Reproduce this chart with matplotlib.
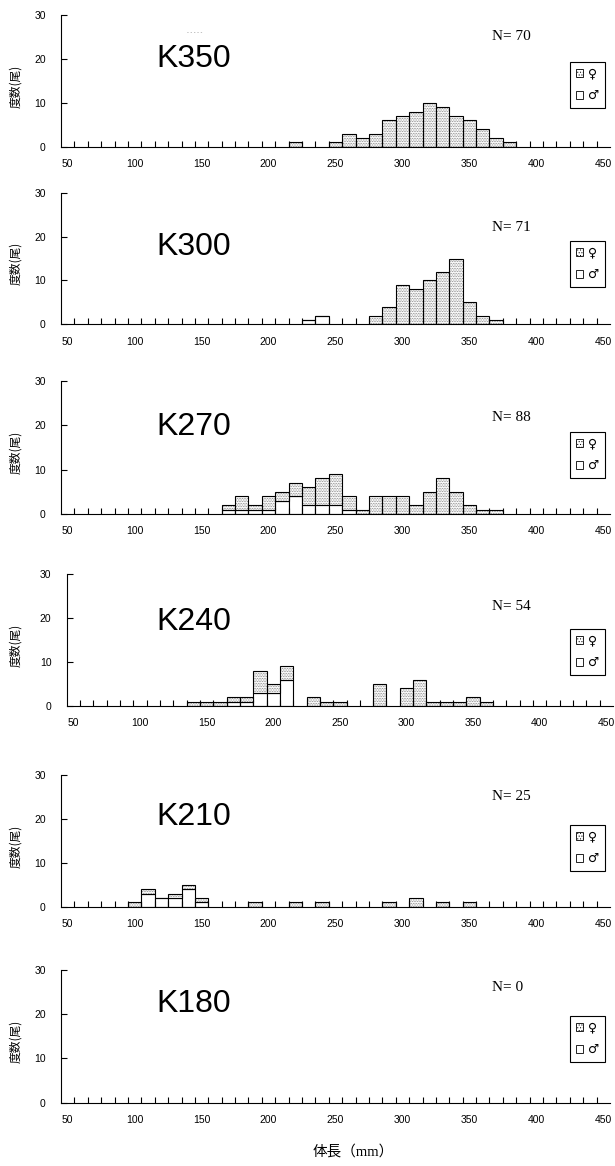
import matplotlib
matplotlib.use("Agg")
import numpy as np
import matplotlib.pyplot as plt
from matplotlib.patches import Patch
from matplotlib import font_manager

# body length classes (mm) and counts per station, female / male
k350_len = [220, 250, 260, 270, 280, 290, 300, 310, 320, 330, 340, 350, 360, 370, 380]
k350_female = [1, 1, 3, 2, 3, 6, 7, 8, 10, 9, 7, 6, 4, 2, 1]
k350_male = [0, 0, 0, 0, 0, 0, 0, 0, 0, 0, 0, 0, 0, 0, 0]

k300_len = [230, 240, 280, 290, 300, 310, 320, 330, 340, 350, 360, 370]
k300_female = [0, 0, 2, 4, 9, 8, 10, 12, 15, 5, 2, 1]
k300_male = [1, 2, 0, 0, 0, 0, 0, 0, 0, 0, 0, 0]

k270_len = [170, 180, 190, 200, 210, 220, 230, 240, 250, 260, 270,
            280, 290, 300, 310, 320, 330, 340, 350, 360, 370]
k270_female = [1, 3, 1, 3, 2, 3, 4, 6, 7, 3, 1, 4, 4, 4, 2, 5, 8, 5, 2, 1, 1]
k270_male = [1, 1, 1, 1, 3, 4, 2, 2, 2, 1, 0, 0, 0, 0, 0, 0, 0, 0, 0, 0, 0]

k240_len = [140, 150, 160, 170, 180, 190, 200, 210, 230, 240, 250,
            280, 300, 310, 320, 330, 340, 350, 360]
k240_female = [1, 1, 1, 1, 1, 5, 2, 3, 2, 1, 1, 5, 4, 6, 1, 1, 1, 2, 1]
k240_male = [0, 0, 0, 1, 1, 3, 3, 6, 0, 0, 0, 0, 0, 0, 0, 0, 0, 0, 0]

k210_len = [100, 110, 120, 130, 140, 150, 190, 220, 240, 290, 310, 330, 350]
k210_female = [1, 1, 0, 1, 1, 1, 1, 1, 1, 1, 2, 1, 1]
k210_male = [0, 3, 2, 2, 4, 1, 0, 0, 0, 0, 0, 0, 0]

k180_len = []
k180_female = []
k180_male = []

stations = ["K350", "K300", "K270", "K240", "K210", "K180"]
n_totals = [70, 71, 88, 54, 25, 0]
x_ticks = [50, 100, 150, 200, 250, 300, 350, 400, 450]
y_ticks = [0, 10, 20, 30]

panels = [
    (k350_len, k350_female, k350_male),
    (k300_len, k300_female, k300_male),
    (k270_len, k270_female, k270_male),
    (k240_len, k240_female, k240_male),
    (k210_len, k210_female, k210_male),
    (k180_len, k180_female, k180_male),
]

# layout in pixels: axes (left, right, top, bottom), station label baseline,
# N text centre, legend top
W, H = 615, 1166
axes_px = [(61, 610, 15.3, 146.7), (61, 610, 192.7, 324.3), (61, 610, 380.7, 514),
           (66.7, 613, 574, 706), (61, 610, 775, 906.7), (61, 610, 970, 1102.7)]
label_base = [66.7, 255, 435, 630, 825, 1011.7]
n_centre = [37, 227.5, 417, 607, 797, 987.5]
legend_top = [62, 241, 432, 629, 825, 1016]


def has_font(name):
    try:
        font_manager.findfont(name, fallback_to_default=False)
        return True
    except ValueError:
        return False


big_font = "Liberation Sans Narrow" if has_font("Liberation Sans Narrow") else "Liberation Sans"
big_size = 27 if big_font == "Liberation Sans Narrow" else 23

plt.rcParams["hatch.linewidth"] = 0.4
plt.rcParams["font.family"] = ["Liberation Sans", "Noto Sans CJK JP", "DejaVu Sans"]

fig = plt.figure(figsize=(W / 100, H / 100), dpi=100)

for i, (lens, fem, mal) in enumerate(panels):
    l, r, t, b = axes_px[i]
    ax = fig.add_axes([l / W, 1 - b / H, (r - l) / W, (b - t) / H])
    fem = np.array(fem)
    mal = np.array(mal)
    if len(lens):
        ax.bar(lens, mal, width=10, facecolor="white", edgecolor="black", linewidth=0.8)
        ax.bar(lens, fem, width=10, bottom=mal, facecolor="white", edgecolor="#666666",
               hatch="..........", linewidth=0)
        ax.bar(lens, fem, width=10, bottom=mal, facecolor="none", edgecolor="black",
               linewidth=0.8)

    ax.set_xlim(45, 455)
    ax.set_ylim(0, 30)
    ax.spines["top"].set_visible(False)
    ax.spines["right"].set_visible(False)
    for s in ("left", "bottom"):
        ax.spines[s].set_linewidth(0.8)

    ax.set_xticks(x_ticks)
    ax.set_xticklabels([str(v) for v in x_ticks])
    ax.set_xticks(np.arange(55, 450, 10), minor=True)
    ax.tick_params(axis="x", which="major", length=0, pad=9, labelsize=7.5)
    ax.tick_params(axis="x", which="minor", direction="in", length=4, width=0.8)
    ax.set_yticks(y_ticks)
    ax.tick_params(axis="y", direction="in", length=4, width=0.8, pad=11, labelsize=7.5)

    ax.set_ylabel("度数(尾)", fontsize=8.5, family=["Noto Sans CJK JP", "DejaVu Sans"])
    ax.yaxis.set_label_coords((22 - l) / (r - l), 0.46)

    fig.text(156 / W, 1 - label_base[i] / H, stations[i], fontsize=big_size,
             family=big_font, ha="left", va="baseline")
    fig.text(492 / W, 1 - n_centre[i] / H, f"N= {n_totals[i]}", fontsize=11,
             family="Liberation Serif", ha="left", va="center")

    handles = [Patch(facecolor="white", edgecolor="black", hatch="......", linewidth=0.6, label="♀"),
               Patch(facecolor="white", edgecolor="black", linewidth=0.6, label="♂")]
    leg = fig.legend(handles=handles, loc="upper left",
                     bbox_to_anchor=(570 / W, 1 - legend_top[i] / H),
                     frameon=True, fancybox=False, edgecolor="black", framealpha=1,
                     prop={"family": "DejaVu Sans", "size": 9},
                     handlelength=0.6, handleheight=0.6, handletextpad=0.4,
                     labelspacing=0.7, borderpad=0.45, borderaxespad=0)
    leg.get_frame().set_linewidth(0.8)

# stray mark above the first station label
fig.text(187 / W, 1 - 32 / H, "- - - - -", fontsize=4, color="#777777", va="center")

fig.text(353 / W, 1 - 1152 / H, "体長（mm）", fontsize=10.5, ha="center", va="center",
         family=["Liberation Serif", "Noto Sans CJK JP"])

fig.savefig("out.png", dpi=100)
